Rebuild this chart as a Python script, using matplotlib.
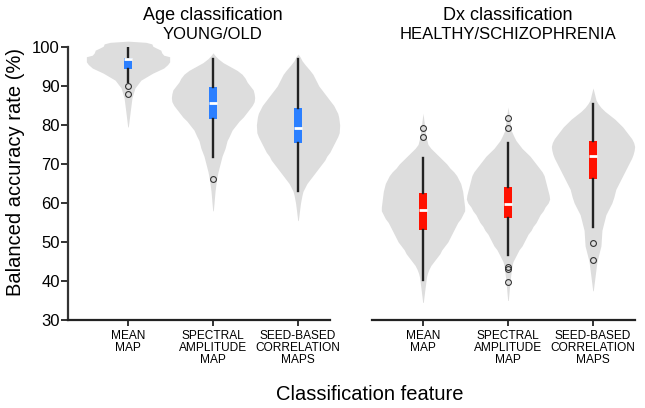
import numpy as np
import matplotlib
matplotlib.use('Agg')
import matplotlib.pyplot as plt
import matplotlib.transforms as mtransforms

plt.rcParams['font.family'] = ['Liberation Sans', 'DejaVu Sans']

# x tick labels
features = ['MEAN\nMAP', 'SPECTRAL\nAMPLITUDE\nMAP', 'SEED-BASED\nCORRELATION\nMAPS']

# violin outlines: accuracy levels and relative density
age_levels = [
    [79.5, 83, 87, 89.5, 91.5, 93.3, 94.6, 95.5, 96.2, 97.5, 97.9, 98.5, 99.2, 99.8, 100.2, 100.8, 101.2, 101.5],
    [58, 60, 63, 66, 68, 70, 72, 74, 76, 77, 78.7, 80, 81, 82, 83, 84, 85, 86, 87, 88, 89, 90, 91, 92, 93,
     94, 95, 96, 97, 97.8, 98.5],
    [55.5, 58, 60, 62, 63, 64, 65, 66, 67, 68, 69, 70, 71, 72, 73, 74, 75, 76, 77, 78, 80, 82, 83, 84, 85,
     86, 87, 88, 89, 90, 91, 92, 93, 94, 95.5, 96.5, 97.5, 98.2],
]
age_dens = [
    [0.3, 2, 4, 7, 13, 25, 36, 40, 42, 42, 36, 34, 33, 28, 25, 24, 18, 0],
    [0.3, 1, 2, 3.5, 5, 7, 9, 12, 14, 16, 19, 23, 26, 30, 33, 36, 39, 41, 41.5, 41, 40, 37, 34, 32, 29,
     24, 17, 10, 5, 2, 0],
    [0.3, 1.5, 2.5, 4, 5, 7, 9, 12, 15, 18, 21, 24, 27, 29, 32, 34, 36, 38, 40, 41.5, 42, 41, 40, 38, 36,
     33, 30, 27, 24, 21, 19, 17, 15, 12, 7, 4, 2, 0],
]
dx_levels = [
    [34.5, 37, 39, 41, 42, 43, 44, 45, 46, 47, 48, 49, 50, 51, 52, 53, 54, 55, 56, 57, 58, 59, 60, 62, 63,
     64, 65, 66, 67, 68, 69, 70, 71, 72, 73, 74, 75, 76, 77, 79, 81, 83],
    [35, 37, 40, 42, 44, 45, 46, 47, 48, 49, 50, 51, 52, 53, 54, 55, 56, 57, 58, 59, 60, 61, 62, 63, 64,
     65, 66, 67, 68, 69, 70, 71, 72, 73, 74, 75, 76, 77, 78.7, 80, 82, 84.6],
    [37.5, 39, 41, 43, 45, 47, 49, 51, 53, 55, 56, 57, 58, 60, 61.5, 62.5, 63.5, 64.5, 65.5, 66.5, 67.5,
     68.5, 69.5, 70.5, 71.5, 72.5, 73.5, 74.5, 75.5, 76.5, 77.5, 78.5, 79.5, 80.5, 81.5, 82.5, 83.5,
     84.5, 85.5, 86.4, 88, 89.5],
]
dx_dens = [
    [0.3, 1.5, 2.5, 3.5, 4.5, 6, 8, 11, 14, 17, 19, 22, 25, 27, 29, 31, 33, 35, 38, 40, 42, 42, 41.5,
     40.5, 40, 39, 38, 36, 34, 31, 27, 24, 20, 16, 12, 8, 5, 4, 3, 2, 1, 0],
    [0.3, 1, 2, 3, 4, 5, 7, 9, 11, 14, 16, 18, 20, 23, 25, 28, 30, 32, 35, 37, 40, 41.5, 41, 40, 39, 38,
     37, 36, 34, 31, 28, 25, 22, 18, 14, 11, 8, 6, 3, 2.5, 1.5, 0],
    [0.3, 1, 2, 3, 4, 6, 8, 8.5, 9, 11, 12, 13, 15, 19, 21, 22, 23, 25, 27, 29, 31, 33, 35, 37, 39, 40.5,
     41.5, 42, 41, 39, 36, 33, 30, 26, 22, 17, 12, 8, 5, 3, 1.5, 0],
]

# box plot summaries
age_whislo = [91, 71.8, 63]
age_q1 = [94.3, 81.5, 75.4]
age_med = [96.9, 85.6, 79.2]
age_q3 = [97.2, 89.8, 84.4]
age_whishi = [100, 97, 97]
age_fliers = [[90, 88], [66.2], []]

dx_whislo = [40.3, 46.7, 53.8]
dx_q1 = [53.1, 56.2, 66.2]
dx_med = [58.2, 59.7, 72.0]
dx_q3 = [62.6, 64.1, 75.9]
dx_whishi = [71.5, 75.4, 85.4]
dx_fliers = [[79.2, 77.0], [81.8, 79.2, 43.6, 43.2, 39.7], [49.7, 45.4]]


def draw_panel(ax, levels, dens, whislo, q1, med, q3, whishi, fliers, color):
    for i in range(3):
        lv = np.array(levels[i])
        d = np.array(dens[i], dtype=float)
        hw = d / d.max() * 0.49
        ax.fill_betweenx(lv, i - hw, i + hw, color='#dddddd', lw=0, clip_on=False, zorder=1)
    stats = []
    for i in range(3):
        stats.append(dict(whislo=whislo[i], q1=q1[i], med=med[i], q3=q3[i],
                          whishi=whishi[i], fliers=fliers[i]))
    ax.bxp(stats, positions=range(3), widths=0.1, showcaps=False, patch_artist=True,
           boxprops=dict(facecolor=color, edgecolor=color, lw=0),
           medianprops=dict(color='white', lw=2, solid_capstyle='butt'),
           whiskerprops=dict(color='#222222', lw=1.7),
           flierprops=dict(marker='o', markersize=4.2, markerfacecolor='none',
                           markeredgecolor='#333333', markeredgewidth=0.8),
           manage_ticks=False, zorder=3)
    ax.set_ylim(30, 100)
    ax.set_xticks(range(3))
    ax.set_xticklabels(features, fontsize=8.6, linespacing=1.0)
    for s in ['top', 'right']:
        ax.spines[s].set_visible(False)
    ax.spines['bottom'].set_linewidth(1.6)
    ax.spines['bottom'].set_color('#222222')
    ax.tick_params(axis='x', length=4, width=1.3, color='#222222', pad=3)


fig = plt.figure(figsize=(6.45, 4.08), dpi=100)
ax1 = fig.add_axes([68 / 645, 1 - 320 / 408, 262 / 645, 273 / 408])
ax2 = fig.add_axes([372 / 645, 1 - 320 / 408, 263 / 645, 273 / 408])

draw_panel(ax1, age_levels, age_dens, age_whislo, age_q1, age_med, age_q3,
           age_whishi, age_fliers, '#2b7fff')
draw_panel(ax2, dx_levels, dx_dens, dx_whislo, dx_q1, dx_med, dx_q3,
           dx_whishi, dx_fliers, '#ff1100')

ax1.set_xlim(-0.706, 2.376)
ax2.set_xlim(-0.6, 2.494)

ax1.set_yticks(range(30, 101, 10))
ax1.tick_params(axis='y', labelsize=12, length=5, width=1.3, color='#222222', pad=1)
ax1.spines['left'].set_linewidth(1.6)
ax1.spines['left'].set_color('#333333')

ax2.spines['left'].set_visible(False)
ax2.set_yticks([])

for ax, t1, t2 in [(ax1, 'Age classification', 'YOUNG/OLD'),
                   (ax2, 'Dx classification', 'HEALTHY/SCHIZOPHRENIA')]:
    tr = mtransforms.blended_transform_factory(ax.transData, ax.transAxes)
    ax.text(1, 1.117, t1, transform=tr, ha='center', va='center', fontsize=13)
    ax.text(1, 1.044, t2, transform=tr, ha='center', va='center', fontsize=12)

fig.text(16 / 645, 1 - 172 / 408, 'Balanced accuracy rate (%)', rotation=90,
         ha='center', va='center', fontsize=14.5)
fig.text(370 / 645, 1 - 395 / 408, 'Classification feature', ha='center',
         va='center', fontsize=14.5)

fig.savefig('out.png', dpi=100)
